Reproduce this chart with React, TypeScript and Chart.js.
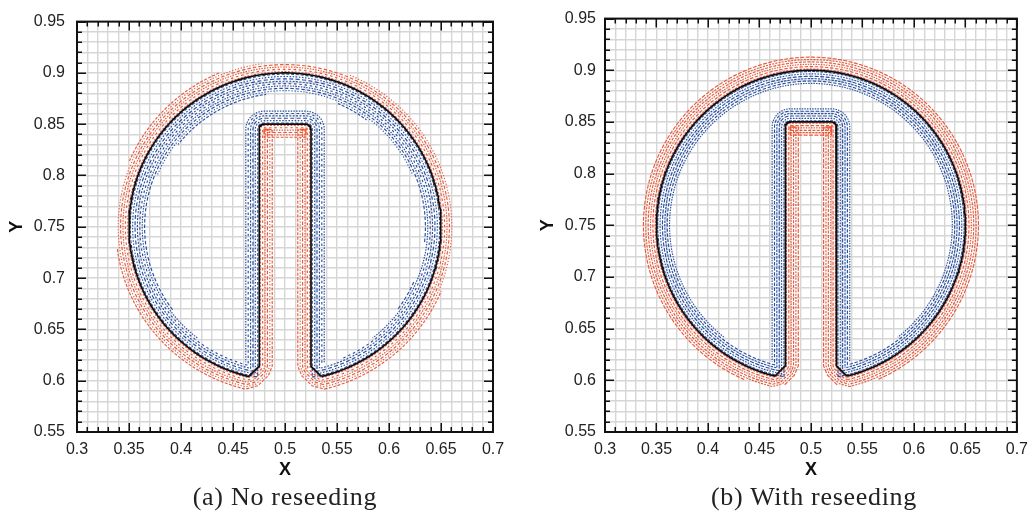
import React, { useEffect, useRef } from "react";
import { Chart, registerables } from "chart.js";

Chart.register(...registerables);

// ---------- axes ----------
const xRange = [0.3, 0.7];
const yRange = [0.55, 0.95];
const gridStep = 0.01;
const labelEvery = 0.05;

// ---------- interface: Zalesak slotted disk ----------
const diskCenter = [0.5, 0.75];
const diskRadius = 0.15;
const slotEdgesX = [0.475, 0.525];
const slotTopY = 0.85;
const slotCornerR = 0.005;
const chamferFootX = [0.465, 0.535];
const chamferTopY = 0.614;

// ---------- marker particle rows: distance from the interface ----------
const particleRows = [0.0012, 0.0035, 0.0058, 0.0081, 0.0104, 0.0127, 0.015, 0.0173, 0.0196];

// ---------- particle band widths, read every 15 deg of the disk's polar angle ----------
const bandAnglesDeg = [-75, -60, -45, -30, -15, 0, 15, 30, 45, 60, 75, 90, 105, 120, 135, 150, 165, 180, 195, 210, 225, 240, 255];
const blueBandA = [0.010, 0.012, 0.014, 0.015, 0.014, 0.016, 0.017, 0.018, 0.019, 0.020, 0.018, 0.018, 0.020, 0.020, 0.020, 0.018, 0.016, 0.016, 0.016, 0.015, 0.013, 0.012, 0.011];
const redBandA = [0.013, 0.013, 0.014, 0.013, 0.012, 0.012, 0.011, 0.012, 0.012, 0.011, 0.010, 0.010, 0.011, 0.013, 0.014, 0.013, 0.012, 0.012, 0.013, 0.014, 0.013, 0.013, 0.013];
const blueBandB = [0.012, 0.012, 0.013, 0.013, 0.013, 0.013, 0.013, 0.013, 0.013, 0.014, 0.014, 0.014, 0.014, 0.014, 0.013, 0.013, 0.013, 0.013, 0.013, 0.013, 0.013, 0.012, 0.012];
const redBandB = [0.012, 0.013, 0.013, 0.013, 0.013, 0.013, 0.013, 0.013, 0.013, 0.013, 0.013, 0.013, 0.013, 0.013, 0.013, 0.013, 0.013, 0.013, 0.013, 0.013, 0.013, 0.013, 0.012];
// band width along the slot, panels (a) and (b)
const blueSlotBand = [0.014, 0.013];
const redSlotBand = [0.013, 0.013];

const captions = ["(a) No reseeding", "(b) With reseeding"];

// ---------- styles ----------
const BLUE = "rgb(40,80,165)";
const RED = "rgb(238,88,55)";
const GRID = "rgb(214,214,214)";
const SANS = "'Liberation Sans', Arial, Helvetica, sans-serif";
const dashSets = [
  [
    [3, 1.8], [1.5, 1.6], [4, 2.4], [2, 1.4], [2.5, 2.8], [1.5, 1.2],
    [3.5, 2], [1.2, 1.8], [3, 1.5],
  ],
  [
    [3, 1.1], [1.6, 1.3], [4, 1.5], [2.4, 1], [3.4, 1.7], [1.5, 1.1],
    [3, 1.3], [2, 1.2], [4, 1.4],
  ],
];

type Seg =
  | { kind: "arc"; cx: number; cy: number; r: number; a0: number; a1: number; onDisk: boolean }
  | { kind: "line"; x0: number; y0: number; x1: number; y1: number };

// segments of the interface; for inward offsets (d < 0) the chamfered
// convex corners are replaced by the exact corner of the offset curves
function interfaceSegments(d: number): Seg[] {
  const [cx, cy] = diskCenter;
  const R = diskRadius;
  const [xl, xr] = slotEdgesX;
  const rc = slotCornerR;
  const top: Seg[] = [
    { kind: "arc", cx: xl + rc, cy: slotTopY - rc, r: rc, a0: Math.PI, a1: Math.PI / 2, onDisk: false },
    { kind: "line", x0: xl + rc, y0: slotTopY, x1: xr - rc, y1: slotTopY },
    { kind: "arc", cx: xr - rc, cy: slotTopY - rc, r: rc, a0: Math.PI / 2, a1: 0, onDisk: false },
  ];
  if (d < 0) {
    const e = -d;
    const Ri = R - e;
    const xli = xl - e;
    const xri = xr + e;
    const yli = cy - Math.sqrt(Ri * Ri - (xli - cx) * (xli - cx));
    const yri = cy - Math.sqrt(Ri * Ri - (xri - cx) * (xri - cx));
    const a0 = Math.atan2(yri - cy, xri - cx);
    const a1 = Math.atan2(yli - cy, xli - cx) + 2 * Math.PI;
    return [
      { kind: "arc", cx, cy, r: R, a0, a1, onDisk: true },
      { kind: "line", x0: xl, y0: yli, x1: xl, y1: slotTopY - rc },
      ...top,
      { kind: "line", x0: xr, y0: slotTopY - rc, x1: xr, y1: yri },
    ];
  }
  const [fl, fr] = chamferFootX;
  const footY = (fx: number) => cy - Math.sqrt(R * R - (fx - cx) * (fx - cx));
  const yl = footY(fl);
  const yr = footY(fr);
  const a0 = Math.atan2(yr - cy, fr - cx);
  const a1 = Math.atan2(yl - cy, fl - cx) + 2 * Math.PI;
  return [
    { kind: "arc", cx, cy, r: R, a0, a1, onDisk: true },
    { kind: "line", x0: fl, y0: yl, x1: xl, y1: chamferTopY },
    { kind: "line", x0: xl, y0: chamferTopY, x1: xl, y1: slotTopY - rc },
    ...top,
    { kind: "line", x0: xr, y0: slotTopY - rc, x1: xr, y1: chamferTopY },
    { kind: "line", x0: xr, y0: chamferTopY, x1: fr, y1: yr },
  ];
}

function nearestIdx(deg: number) {
  let best = 0;
  for (let i = 1; i < bandAnglesDeg.length; i++) {
    if (Math.abs(bandAnglesDeg[i] - deg) < Math.abs(bandAnglesDeg[best] - deg)) best = i;
  }
  return best;
}

type P = { x: number; y: number | null };

// d > 0: outside the disk (red side), d < 0: inside (blue side)
function offsetPath(d: number, width: (onDisk: boolean, deg: number) => number): P[] {
  const segs = interfaceSegments(d);
  const out: P[] = [];
  const ad = Math.abs(d);
  for (const s of segs) {
    if (s.kind === "arc") {
      const ccw = s.a1 > s.a0;
      const r = Math.max(0, s.r + (ccw ? d : -d));
      const n = Math.max(2, Math.ceil(Math.abs(s.a1 - s.a0) / (Math.PI / 180)));
      for (let i = 0; i <= n; i++) {
        const a = s.a0 + ((s.a1 - s.a0) * i) / n;
        const vis = ad <= width(s.onDisk, (a * 180) / Math.PI);
        out.push({ x: s.cx + r * Math.cos(a), y: vis ? s.cy + r * Math.sin(a) : null });
      }
    } else {
      const dx = s.x1 - s.x0;
      const dy = s.y1 - s.y0;
      const L = Math.hypot(dx, dy);
      const nx = dy / L;
      const ny = -dx / L;
      const vis = ad <= width(false, 0);
      out.push({ x: s.x0 + nx * d, y: vis ? s.y0 + ny * d : null });
      out.push({ x: s.x1 + nx * d, y: vis ? s.y1 + ny * d : null });
    }
  }
  out.push({ ...out[0] });
  return out;
}

const isMajor = (v: number) => Math.abs(v / labelEvery - Math.round(v / labelEvery)) < 1e-6;
const fmt = (v: number) => String(+v.toFixed(2));

const frameTicks = {
  id: "frameTicks",
  afterDatasetsDraw(chart: any) {
    const { ctx, chartArea, scales } = chart;
    const { left, right, top, bottom } = chartArea;
    ctx.save();
    ctx.strokeStyle = "#111";
    ctx.lineWidth = 1.5;
    ctx.beginPath();
    for (const t of scales.x.ticks) {
      const px = Math.round(scales.x.getPixelForValue(t.value)) + 0.25;
      const len = isMajor(t.value) ? 9 : 5;
      ctx.moveTo(px, bottom);
      ctx.lineTo(px, bottom - len);
      ctx.moveTo(px, top);
      ctx.lineTo(px, top + len);
    }
    for (const t of scales.y.ticks) {
      const py = Math.round(scales.y.getPixelForValue(t.value)) + 0.25;
      const len = isMajor(t.value) ? 9 : 5;
      ctx.moveTo(left, py);
      ctx.lineTo(left + len, py);
      ctx.moveTo(right, py);
      ctx.lineTo(right - len, py);
    }
    ctx.stroke();
    ctx.lineWidth = 2;
    ctx.strokeRect(left, top, right - left, bottom - top);
    ctx.restore();
  },
};

type PanelCfg = {
  idx: number;
  left: number;
  padRight: number;
  yWidth: number;
  yTickPad: number;
  yTitlePad: number;
};

function buildDatasets(idx: number) {
  const blueBand = idx === 0 ? blueBandA : blueBandB;
  const redBand = idx === 0 ? redBandA : redBandB;
  const dashes = dashSets[idx];
  const blueW = (onDisk: boolean, deg: number) => (onDisk ? blueBand[nearestIdx(deg)] : blueSlotBand[idx]);
  const redW = (onDisk: boolean, deg: number) => (onDisk ? redBand[nearestIdx(deg)] : redSlotBand[idx]);
  const ds: any[] = [
    {
      label: "interface",
      data: offsetPath(0, () => 1),
      borderColor: "#0d0d0d",
      borderWidth: 1.7,
      order: 0,
    },
  ];
  particleRows.forEach((row, i) => {
    ds.push({
      label: "inside " + i,
      data: offsetPath(-row, blueW),
      borderColor: BLUE,
      borderWidth: 1.15,
      borderDash: dashes[i % dashes.length],
      borderDashOffset: i * 0.7,
      order: 1,
    });
    ds.push({
      label: "outside " + i,
      data: offsetPath(row, redW),
      borderColor: RED,
      borderWidth: 1.15,
      borderDash: dashes[(i + 3) % dashes.length],
      borderDashOffset: i * 0.9,
      order: 1,
    });
  });
  return ds;
}

const CANVAS_W = 518;
const CANVAS_H = 484;

function Panel({ cfg }: { cfg: PanelCfg }) {
  const ref = useRef<HTMLCanvasElement>(null);
  useEffect(() => {
    const chart = new Chart(ref.current as HTMLCanvasElement, {
      type: "line",
      data: { datasets: buildDatasets(cfg.idx) },
      options: {
        animation: false,
        responsive: false,
        maintainAspectRatio: false,
        events: [],
        layout: { padding: { left: 0, top: 15, right: cfg.padRight, bottom: 0 } },
        elements: {
          point: { radius: 0, hitRadius: 0, hoverRadius: 0 },
          line: { tension: 0, fill: false, capBezierPoints: false },
        },
        spanGaps: false,
        plugins: { legend: { display: false }, tooltip: { enabled: false }, title: { display: false } },
        scales: {
          x: {
            type: "linear",
            min: xRange[0],
            max: xRange[1],
            afterFit: (s: any) => {
              s.height = 52;
            },
            grid: { color: GRID, lineWidth: 1.4, drawTicks: false },
            border: { display: false },
            ticks: {
              stepSize: gridStep,
              autoSkip: false,
              maxRotation: 0,
              minRotation: 0,
              padding: 8,
              color: "#222",
              font: { family: SANS, size: 16 },
              callback: (v: any) => (isMajor(+v) ? fmt(+v) : ""),
            },
            title: {
              display: true,
              text: "X",
              color: "#111",
              font: { family: SANS, size: 18, weight: "bold" },
              padding: { top: 0, bottom: 3 },
            },
          },
          y: {
            type: "linear",
            min: yRange[0],
            max: yRange[1],
            afterFit: (s: any) => {
              s.width = cfg.yWidth;
            },
            grid: { color: GRID, lineWidth: 1.4, drawTicks: false },
            border: { display: false },
            ticks: {
              stepSize: gridStep,
              autoSkip: false,
              padding: cfg.yTickPad,
              color: "#222",
              font: { family: SANS, size: 16 },
              callback: (v: any) => (isMajor(+v) ? fmt(+v) : ""),
            },
            title: {
              display: true,
              text: "Y",
              color: "#111",
              font: { family: SANS, size: 18, weight: "bold" },
              padding: { top: cfg.yTitlePad, bottom: 0 },
            },
          },
        },
      } as any,
      plugins: [frameTicks],
    });
    return () => chart.destroy();
  }, []);
  return (
    <canvas
      ref={ref}
      width={CANVAS_W}
      height={CANVAS_H}
      style={{ position: "absolute", left: cfg.left, top: 0, width: CANVAS_W, height: CANVAS_H }}
    />
  );
}

const panels: PanelCfg[] = [
  { idx: 0, left: 0, padRight: 25, yWidth: 77, yTickPad: 12, yTitlePad: 6 },
  { idx: 1, left: 518, padRight: 14, yWidth: 87, yTickPad: 9, yTitlePad: 19 },
];
const captionCenters = [285, 814];

export default function App() {
  return (
    <div style={{ position: "absolute", left: 0, top: 0, width: 1036, height: 514, background: "#fff", overflow: "hidden" }}>
      {panels.map((p) => (
        <Panel key={p.idx} cfg={p} />
      ))}
      {captions.map((c, i) => (
        <div
          key={c}
          style={{
            position: "absolute",
            left: captionCenters[i] - 200,
            width: 400,
            top: 481,
            height: 32,
            lineHeight: "32px",
            textAlign: "center",
            fontFamily: "'Liberation Serif', 'Times New Roman', serif",
            fontSize: 26,
            letterSpacing: 0.7,
            color: "#222",
            whiteSpace: "nowrap",
          }}
        >
          {c}
        </div>
      ))}
    </div>
  );
}
